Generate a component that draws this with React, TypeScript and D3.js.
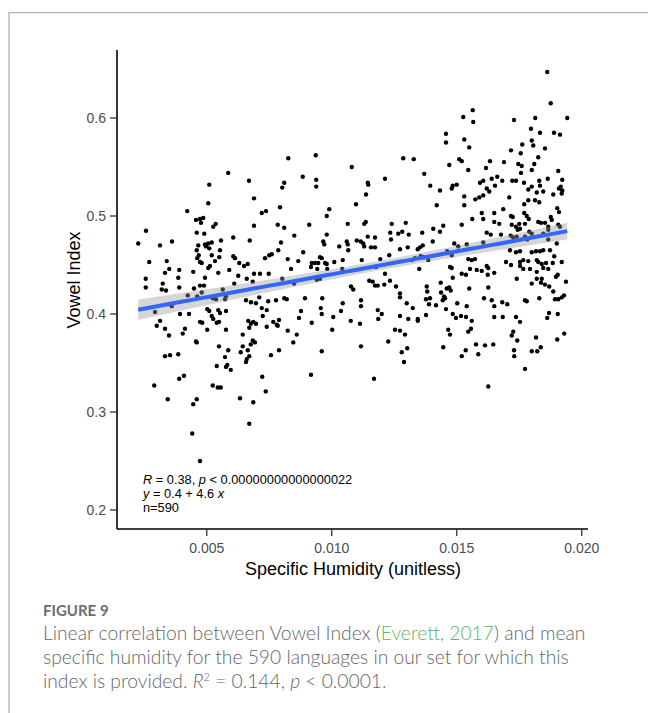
import React from 'react';
import * as d3 from 'd3';

// [specific humidity, vowel index]
const points: [number, number][] = [
  [0.00586,0.544],[0.00669,0.536],[0.00510,0.532],[0.00689,0.518],[0.00506,0.513],[0.00422,0.505],[0.00720,0.503],[0.00737,0.505],
  [0.00457,0.496],[0.00473,0.497],[0.00486,0.498],[0.00477,0.493],[0.00536,0.492],[0.00526,0.489],[0.00689,0.490],[0.00784,0.491],
  [0.00257,0.485],[0.00460,0.483],[0.00490,0.482],[0.00606,0.478],[0.00557,0.475],[0.00672,0.475],[0.00226,0.472],[0.00313,0.470],
  [0.00361,0.474],[0.00466,0.470],[0.00493,0.471],[0.00506,0.472],[0.00520,0.473],[0.00497,0.469],[0.00510,0.467],[0.00460,0.465],
  [0.00553,0.465],[0.00468,0.460],[0.00520,0.460],[0.00606,0.459],[0.00613,0.457],[0.00270,0.453],[0.00340,0.454],[0.00462,0.457],
  [0.00473,0.453],[0.00480,0.452],[0.00533,0.454],[0.00550,0.458],[0.00630,0.452],[0.00649,0.449],[0.00664,0.451],[0.00733,0.457],
  [0.00750,0.460],[0.00760,0.461],[0.00786,0.465],[0.00506,0.447],[0.00513,0.449],[0.00333,0.442],[0.00350,0.446],[0.00390,0.445],
  [0.00446,0.443],[0.00546,0.442],[0.00590,0.445],[0.00626,0.439],[0.00689,0.441],[0.00713,0.441],[0.00748,0.441],[0.00386,0.437],
  [0.00493,0.437],[0.00660,0.436],[0.00256,0.436],[0.00256,0.427],[0.00324,0.431],[0.00320,0.425],[0.00337,0.424],[0.00390,0.427],
  [0.00449,0.426],[0.00473,0.429],[0.00489,0.429],[0.00610,0.431],[0.00684,0.433],[0.00424,0.419],[0.00480,0.422],[0.00462,0.418],
  [0.00564,0.425],[0.00577,0.418],[0.00573,0.415],[0.00537,0.415],[0.00524,0.416],[0.00293,0.402],[0.00360,0.408],[0.00393,0.400],
  [0.00429,0.400],[0.00502,0.405],[0.00510,0.403],[0.00546,0.404],[0.00553,0.401],[0.00577,0.403],[0.00657,0.414],[0.00677,0.412],
  [0.00697,0.411],[0.00710,0.417],[0.00720,0.406],[0.00740,0.404],[0.00746,0.413],[0.00777,0.414],[0.00520,0.398],[0.00526,0.395],
  [0.00540,0.391],[0.00549,0.392],[0.00473,0.392],[0.00482,0.391],[0.00724,0.398],[0.00740,0.387],[0.00666,0.393],[0.00677,0.390],
  [0.00686,0.392],[0.00697,0.390],[0.00670,0.386],[0.00766,0.392],[0.00780,0.389],[0.00789,0.394],[0.00313,0.393],[0.00300,0.388],
  [0.00333,0.385],[0.00349,0.378],[0.00413,0.385],[0.00404,0.380],[0.00502,0.384],[0.00577,0.384],[0.00457,0.372],[0.00460,0.371],
  [0.00644,0.379],[0.00644,0.367],[0.00684,0.373],[0.00693,0.371],[0.00676,0.369],[0.00549,0.367],[0.00586,0.363],[0.00664,0.363],
  [0.00636,0.361],[0.00670,0.357],[0.00660,0.354],[0.00657,0.351],[0.00573,0.356],[0.00582,0.348],[0.00577,0.346],[0.00596,0.343],
  [0.00789,0.363],[0.00757,0.358],[0.00333,0.357],[0.00353,0.358],[0.00386,0.359],[0.00540,0.347],[0.00390,0.334],[0.00409,0.337],
  [0.00290,0.327],[0.00524,0.327],[0.00544,0.325],[0.00556,0.325],[0.00722,0.336],[0.00736,0.321],[0.00344,0.313],[0.00446,0.308],
  [0.00460,0.313],[0.00633,0.314],[0.00686,0.310],[0.00670,0.288],[0.00442,0.278],[0.00473,0.250],[0.00826,0.559],[0.00936,0.562],
  [0.01286,0.559],[0.01328,0.558],[0.01080,0.550],[0.00884,0.540],[0.00938,0.537],[0.00938,0.530],[0.00810,0.534],[0.00802,0.529],
  [0.01144,0.534],[0.01146,0.532],[0.01213,0.538],[0.01370,0.543],[0.01394,0.531],[0.01137,0.522],[0.00793,0.509],[0.01097,0.512],
  [0.00990,0.507],[0.00980,0.500],[0.00810,0.488],[0.00910,0.491],[0.01064,0.492],[0.01130,0.492],[0.01136,0.494],[0.01240,0.492],
  [0.01296,0.493],[0.01406,0.487],[0.00850,0.480],[0.00980,0.481],[0.00797,0.473],[0.00966,0.474],[0.00970,0.471],[0.01064,0.471],
  [0.01060,0.474],[0.01100,0.475],[0.01116,0.474],[0.01144,0.479],[0.01173,0.478],[0.01234,0.483],[0.01237,0.476],[0.01266,0.482],
  [0.01282,0.484],[0.01308,0.481],[0.01362,0.483],[0.01404,0.474],[0.00886,0.463],[0.01030,0.469],[0.01066,0.465],[0.01126,0.472],
  [0.01130,0.469],[0.01157,0.468],[0.01173,0.468],[0.01230,0.460],[0.01273,0.466],[0.01304,0.468],[0.01344,0.466],[0.01353,0.468],
  [0.01364,0.470],[0.00824,0.456],[0.00866,0.454],[0.00920,0.452],[0.00933,0.452],[0.00946,0.452],[0.00953,0.458],[0.00960,0.457],
  [0.00973,0.452],[0.00980,0.451],[0.01010,0.453],[0.01044,0.455],[0.01120,0.455],[0.01194,0.456],[0.01320,0.455],[0.01333,0.457],
  [0.01356,0.459],[0.01366,0.458],[0.01386,0.455],[0.00837,0.446],[0.00917,0.448],[0.00942,0.446],[0.00982,0.446],[0.01042,0.446],
  [0.01177,0.448],[0.01350,0.446],[0.00802,0.436],[0.00849,0.431],[0.00940,0.435],[0.00953,0.436],[0.01213,0.441],[0.01233,0.434],
  [0.01210,0.430],[0.01150,0.434],[0.01164,0.433],[0.01173,0.429],[0.01184,0.429],[0.01257,0.428],[0.01077,0.428],[0.01086,0.425],
  [0.01273,0.421],[0.01273,0.417],[0.01380,0.428],[0.01382,0.423],[0.01377,0.415],[0.01393,0.416],[0.01389,0.410],[0.00810,0.416],
  [0.00820,0.415],[0.00893,0.416],[0.00962,0.416],[0.00956,0.406],[0.00960,0.400],[0.00877,0.403],[0.00869,0.396],[0.00784,0.388],
  [0.00824,0.383],[0.00860,0.379],[0.00846,0.371],[0.00920,0.391],[0.01006,0.397],[0.01002,0.384],[0.01044,0.411],[0.01037,0.403],
  [0.01076,0.393],[0.01117,0.414],[0.01117,0.408],[0.01113,0.390],[0.01117,0.367],[0.01184,0.404],[0.01200,0.400],[0.01186,0.395],
  [0.01226,0.372],[0.01253,0.384],[0.01273,0.383],[0.01293,0.379],[0.01300,0.411],[0.01324,0.406],[0.01273,0.398],[0.01306,0.395],
  [0.01344,0.395],[0.01344,0.393],[0.01377,0.399],[0.01417,0.409],[0.01280,0.361],[0.01302,0.365],[0.01289,0.351],[0.00960,0.362],
  [0.00917,0.338],[0.01169,0.334],[0.01862,0.647],[0.01876,0.615],[0.01564,0.608],[0.01566,0.596],[0.01526,0.601],[0.01942,0.600],
  [0.01729,0.598],[0.01814,0.600],[0.01797,0.589],[0.01833,0.585],[0.01889,0.585],[0.01913,0.583],[0.01457,0.584],[0.01457,0.575],
  [0.01530,0.578],[0.01550,0.570],[0.01800,0.577],[0.01806,0.572],[0.01762,0.573],[0.01853,0.569],[0.01717,0.567],[0.01756,0.564],
  [0.01826,0.560],[0.01510,0.558],[0.01520,0.556],[0.01633,0.556],[0.01689,0.555],[0.01746,0.553],[0.01760,0.551],[0.01470,0.552],
  [0.01810,0.553],[0.01617,0.549],[0.01546,0.547],[0.01800,0.547],[0.01906,0.546],[0.01757,0.544],[0.01640,0.538],[0.01662,0.540],
  [0.01682,0.536],[0.01722,0.536],[0.01737,0.536],[0.01769,0.534],[0.01830,0.536],[0.01833,0.531],[0.01864,0.538],[0.01922,0.537],
  [0.01593,0.534],[0.01606,0.536],[0.01653,0.531],[0.01480,0.528],[0.01484,0.531],[0.01500,0.532],[0.01433,0.526],[0.01620,0.528],
  [0.01630,0.525],[0.01800,0.530],[0.01786,0.527],[0.01909,0.528],[0.01916,0.530],[0.01922,0.526],[0.01920,0.523],[0.01820,0.524],
  [0.01846,0.525],[0.01886,0.522],[0.01530,0.520],[0.01606,0.521],[0.01590,0.519],[0.01574,0.517],[0.01710,0.519],[0.01786,0.516],
  [0.01813,0.516],[0.01830,0.514],[0.01770,0.512],[0.01420,0.511],[0.01530,0.511],[0.01686,0.507],[0.01902,0.508],[0.01909,0.504],
  [0.01600,0.503],[0.01650,0.503],[0.01770,0.503],[0.01780,0.500],[0.01717,0.500],[0.01724,0.499],[0.01562,0.497],[0.01606,0.497],
  [0.01788,0.497],[0.01826,0.494],[0.01837,0.493],[0.01853,0.493],[0.01876,0.499],[0.01880,0.496],[0.01650,0.494],[0.01670,0.492],
  [0.01720,0.491],[0.01737,0.489],[0.01750,0.492],[0.01773,0.492],[0.01520,0.491],[0.01446,0.490],[0.01433,0.484],[0.01866,0.489],
  [0.01906,0.491],[0.01913,0.489],[0.01744,0.486],[0.01753,0.487],[0.01790,0.484],[0.01800,0.482],[0.01846,0.482],[0.01866,0.486],
  [0.01620,0.483],[0.01636,0.481],[0.01677,0.481],[0.01716,0.480],[0.01726,0.478],[0.01740,0.479],[0.01490,0.472],[0.01506,0.469],
  [0.01540,0.471],[0.01606,0.473],[0.01773,0.479],[0.01782,0.476],[0.01866,0.476],[0.01900,0.472],[0.01713,0.465],[0.01737,0.463],
  [0.01753,0.464],[0.01800,0.463],[0.01817,0.464],[0.01833,0.464],[0.01846,0.465],[0.01873,0.465],[0.01890,0.459],[0.01462,0.464],
  [0.01480,0.460],[0.01546,0.456],[0.01560,0.455],[0.01573,0.456],[0.01697,0.453],[0.01717,0.450],[0.01753,0.453],[0.01766,0.455],
  [0.01786,0.454],[0.01753,0.449],[0.01820,0.455],[0.01826,0.453],[0.01840,0.451],[0.01857,0.452],[0.01884,0.452],[0.01920,0.453],
  [0.01473,0.448],[0.01480,0.447],[0.01553,0.446],[0.01620,0.449],[0.01626,0.447],[0.01766,0.446],[0.01793,0.446],[0.01846,0.447],
  [0.01866,0.446],[0.01580,0.445],[0.01600,0.444],[0.01484,0.437],[0.01520,0.441],[0.01537,0.440],[0.01624,0.440],[0.01650,0.442],
  [0.01740,0.436],[0.01800,0.431],[0.01820,0.436],[0.01840,0.436],[0.01837,0.432],[0.01820,0.443],[0.01897,0.438],[0.01904,0.440],
  [0.01937,0.433],[0.01853,0.430],[0.01870,0.428],[0.01886,0.423],[0.01436,0.432],[0.01460,0.426],[0.01470,0.427],[0.01476,0.424],
  [0.01437,0.422],[0.01449,0.418],[0.01453,0.416],[0.01444,0.414],[0.01550,0.426],[0.01626,0.427],[0.01502,0.411],[0.01540,0.408],
  [0.01609,0.416],[0.01640,0.414],[0.01650,0.408],[0.01682,0.412],[0.01702,0.410],[0.01773,0.414],[0.01780,0.413],[0.01830,0.416],
  [0.01893,0.415],[0.01906,0.415],[0.01920,0.417],[0.01929,0.419],[0.01457,0.405],[0.01484,0.400],[0.01497,0.396],[0.01517,0.398],
  [0.01537,0.397],[0.01560,0.393],[0.01650,0.397],[0.01684,0.397],[0.01737,0.397],[0.01753,0.392],[0.01869,0.401],[0.01862,0.396],
  [0.01904,0.400],[0.01466,0.384],[0.01473,0.379],[0.01546,0.382],[0.01557,0.385],[0.01726,0.382],[0.01720,0.378],[0.01742,0.373],
  [0.01817,0.376],[0.01902,0.374],[0.01930,0.380],[0.01446,0.366],[0.01577,0.369],[0.01613,0.368],[0.01646,0.369],[0.01536,0.363],
  [0.01520,0.357],[0.01586,0.359],[0.01729,0.363],[0.01730,0.357],[0.01800,0.362],[0.01822,0.362],[0.01836,0.366],[0.01773,0.344],
  [0.01626,0.326],
];

const xTicks = [0.005, 0.01, 0.015, 0.02];
const yTicks = [0.2, 0.3, 0.4, 0.5, 0.6];
const captionLine2 = 'specific humidity for the 590 languages in our set for which this';

const chartFont = '"Liberation Sans", Arial, Helvetica, sans-serif';
const captionFont = 'Lato, "Open Sans", sans-serif';

export default function App() {
  const width = 648;
  const height = 713;

  const x = d3.scaleLinear().domain([0.00141, 0.02025]).range([117, 588]);
  const y = d3.scaleLinear().domain([0.1806, 0.6694]).range([529, 50]);

  // least squares fit with 95% confidence band
  const n = points.length;
  const mx = d3.mean(points, d => d[0]) as number;
  const my = d3.mean(points, d => d[1]) as number;
  const sxx = d3.sum(points, d => (d[0] - mx) ** 2);
  const sxy = d3.sum(points, d => (d[0] - mx) * (d[1] - my));
  const slope = sxy / sxx;
  const intercept = my - slope * mx;
  const se = Math.sqrt(d3.sum(points, d => (d[1] - intercept - slope * d[0]) ** 2) / (n - 2));
  const [xMin, xMax] = d3.extent(points, d => d[0]) as [number, number];
  const grid = d3.range(81).map(i => xMin + ((xMax - xMin) * i) / 80);
  const halfWidth = (v: number) => 1.96 * se * Math.sqrt(1 / n + (v - mx) ** 2 / sxx);

  const band = d3.area<number>()
    .x(v => x(v))
    .y0(v => y(intercept + slope * v - halfWidth(v)))
    .y1(v => y(intercept + slope * v + halfWidth(v)));
  const fit = d3.line<number>()
    .x(v => x(v))
    .y(v => y(intercept + slope * v));

  const [x0, x1] = x.range();
  const [y0, y1] = y.range();

  return (
    <svg width={width} height={height} style={{ position: 'absolute', left: 0, top: 0 }}>
      <rect x={0} y={0} width={width} height={height} fill="#fff" />
      <path d="M9,713 L9,12.7 L648,12.7" fill="none" stroke="#b3b3b3" strokeWidth={1.3} />

      {points.map((d, i) => (
        <circle key={i} cx={x(d[0])} cy={y(d[1])} r={2.2} fill="#000" />
      ))}

      <path d={band(grid) || ''} fill="#999" fillOpacity={0.4} />
      <path d={fit(grid) || ''} fill="none" stroke="#3366FF" strokeWidth={4} />

      <line x1={x0} x2={x0} y1={y0} y2={y1} stroke="#000" strokeWidth={1.6} />
      <line x1={x0} x2={x1} y1={y0} y2={y0} stroke="#000" strokeWidth={1.6} />

      {yTicks.map(t => (
        <g key={t}>
          <line x1={x0 - 7} x2={x0} y1={y(t)} y2={y(t)} stroke="#333" strokeWidth={1.3} />
          <text x={x0 - 11} y={y(t) + 5} textAnchor="end" fontFamily={chartFont} fontSize={14} fill="#4d4d4d">
            {d3.format('.1f')(t)}
          </text>
        </g>
      ))}
      {xTicks.map(t => (
        <g key={t}>
          <line x1={x(t)} x2={x(t)} y1={y0} y2={y0 + 7} stroke="#333" strokeWidth={1.3} />
          <text x={x(t)} y={y0 + 24} textAnchor="middle" fontFamily={chartFont} fontSize={14} fill="#4d4d4d">
            {d3.format('.3f')(t)}
          </text>
        </g>
      ))}

      <text x={353} y={575} textAnchor="middle" fontFamily={chartFont} fontSize={18} fill="#000">
        Specific Humidity (unitless)
      </text>
      <text transform="translate(79.5,280) rotate(-90)" textAnchor="middle" fontFamily={chartFont} fontSize={18} fill="#000">
        Vowel Index
      </text>

      <g fontFamily={chartFont} fontSize={12.8} fill="#000">
        <text x={143} y={483.5}>
          <tspan fontStyle="italic">R</tspan> = 0.38, <tspan fontStyle="italic">p</tspan> &lt; 0.00000000000000022
        </text>
        <text x={143} y={497.5}>
          <tspan fontStyle="italic">y</tspan> = 0.4 + 4.6 <tspan fontStyle="italic">x</tspan>
        </text>
        <text x={143} y={511.5}>n=590</text>
      </g>

      <g fontFamily={captionFont} fill="#666">
        <text x={43} y={616} fontSize={15} fontWeight={700} fill="#6d6d6d">FIGURE 9</text>
        <text x={43} y={640} fontSize={19.25} fontWeight={300}>
          Linear correlation between Vowel Index (<tspan fill="#5cb85c">Everett, 2017</tspan>) and mean
        </text>
        <text x={43} y={664} fontSize={19.25} fontWeight={300}>{captionLine2}</text>
        <text x={43} y={688} fontSize={19.25} fontWeight={300}>
          index is provided. <tspan fontStyle="italic">R</tspan>
          <tspan fontSize={11} dy={-7}>2</tspan>
          <tspan dy={7}> = 0.144, </tspan>
          <tspan fontStyle="italic">p</tspan> &lt; 0.0001.
        </text>
      </g>
    </svg>
  );
}
